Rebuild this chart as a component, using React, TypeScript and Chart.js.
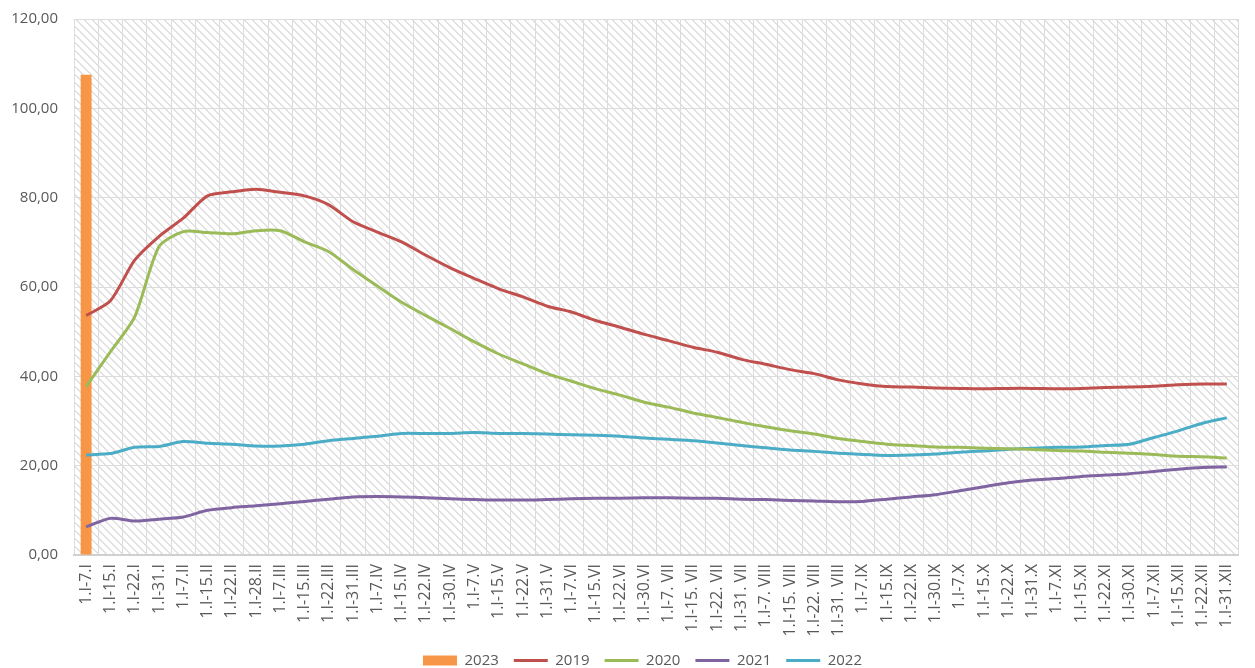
import React, { useEffect, useRef } from "react";
import { Chart, registerables } from "chart.js";

Chart.register(...registerables);

const categories: string[] = [
  "1.I-7.I", "1.I-15.I", "1.I-22.I", "1.I-31.I",
  "1.I-7.II", "1.I-15.II", "1.I-22.II", "1.I-28.II",
  "1.I-7.III", "1.I-15.III", "1.I-22.III", "1.I-31.III",
  "1.I-7.IV", "1.I-15.IV", "1.I-22.IV", "1.I-30.IV",
  "1.I-7.V", "1.I-15.V", "1.I-22.V", "1.I-31.V",
  "1.I-7.VI", "1.I-15.VI", "1.I-22.VI", "1.I-30.VI",
  "1.I-7. VII", "1.I-15. VII", "1.I-22. VII", "1.I-31. VII",
  "1.I-7. VIII", "1.I-15. VIII", "1.I-22. VIII", "1.I-31. VIII",
  "1.I-7.IX", "1.I-15.IX", "1.I-22.IX", "1.I-30.IX",
  "1.I-7.X", "1.I-15.X", "1.I-22.X", "1.I-31.X",
  "1.I-7.XI", "1.I-15.XI", "1.I-22.XI", "1.I-30.XI",
  "1.I-7.XII", "1.I-15.XII", "1.I-22.XII", "1.I-31.XII",
];

const values2023: (number | null)[] = [107.5];

const values2019: number[] = [
  53.6, 56.9, 66.0, 71.3, 75.4, 80.4, 81.3, 81.9, 81.2, 80.4, 78.4, 74.6,
  72.3, 70.1, 67.1, 64.3, 61.9, 59.6, 57.8, 55.7, 54.4, 52.5, 51.0, 49.4,
  48.0, 46.5, 45.4, 43.8, 42.7, 41.5, 40.6, 39.2, 38.3, 37.7, 37.6, 37.4,
  37.3, 37.2, 37.3, 37.3, 37.2, 37.3, 37.5, 37.6, 37.8, 38.1, 38.3, 38.3,
];

const values2020: number[] = [
  37.7, 45.5, 53.3, 69.0, 72.4, 72.2, 71.9, 72.6, 72.6, 70.1, 67.9, 63.9,
  60.2, 56.6, 53.6, 50.7, 47.7, 45.0, 42.8, 40.6, 38.9, 37.2, 35.8, 34.2,
  33.1, 31.8, 30.8, 29.7, 28.7, 27.8, 27.1, 26.1, 25.4, 24.8, 24.5, 24.2,
  24.1, 23.9, 23.8, 23.6, 23.4, 23.3, 23.0, 22.8, 22.5, 22.1, 22.0, 21.7,
];

const values2021: number[] = [
  6.3, 8.2, 7.6, 8.0, 8.5, 10.0, 10.6, 11.0, 11.5, 12.0, 12.5, 13.0,
  13.1, 13.0, 12.8, 12.6, 12.4, 12.3, 12.3, 12.4, 12.6, 12.7, 12.7, 12.8,
  12.8, 12.7, 12.7, 12.5, 12.4, 12.2, 12.1, 11.9, 12.0, 12.5, 13.0, 13.5,
  14.4, 15.3, 16.2, 16.8, 17.1, 17.6, 17.9, 18.2, 18.7, 19.2, 19.6, 19.7,
];

const values2022: number[] = [
  22.4, 22.7, 24.1, 24.3, 25.4, 25.0, 24.8, 24.4, 24.4, 24.8, 25.6, 26.1,
  26.6, 27.2, 27.2, 27.2, 27.4, 27.2, 27.2, 27.1, 26.9, 26.8, 26.6, 26.2,
  25.9, 25.6, 25.1, 24.5, 24.0, 23.5, 23.2, 22.8, 22.5, 22.3, 22.4, 22.6,
  23.0, 23.3, 23.7, 23.9, 24.1, 24.2, 24.5, 24.8, 26.3, 27.8, 29.5, 30.7,
];

const yTicks: number[] = [0, 20, 40, 60, 80, 100, 120];

const COLORS = {
  c2023: "#F79646",
  c2019: "#C0504D",
  c2020: "#9BBB59",
  c2021: "#8064A2",
  c2022: "#4BACC6",
};

const TEXT = "#595959";
const FONT = "'Open Sans', 'Liberation Sans', sans-serif";

function makePattern(): CanvasPattern | string {
  const tile = document.createElement("canvas");
  tile.width = 8;
  tile.height = 8;
  const c = tile.getContext("2d");
  if (!c) return "#ffffff";
  c.fillStyle = "#ffffff";
  c.fillRect(0, 0, 8, 8);
  c.fillStyle = "#e0e0e0";
  for (let i = 0; i < 8; i++) {
    c.fillRect(i, i, 1, 1);
    c.fillRect((i + 1) % 8, i, 1, 1);
  }
  const p = c.createPattern(tile, "repeat");
  return p || "#ffffff";
}

const hatchPlugin = {
  id: "hatchBackground",
  beforeDraw(chart: any) {
    const { ctx, chartArea } = chart;
    if (!chartArea) return;
    ctx.save();
    ctx.fillStyle = makePattern();
    ctx.fillRect(
      chartArea.left,
      chartArea.top,
      chartArea.right - chartArea.left,
      chartArea.bottom - chartArea.top
    );
    ctx.restore();
  },
};

const layoutTweakPlugin = {
  id: "layoutTweak",
  afterLayout(chart: any) {
    const lg = chart.legend;
    if (lg) {
      lg.left += 15;
      lg.right += 15;
      lg.top += 10;
      lg.bottom += 10;
    }
    const xs = chart.scales && chart.scales.x;
    if (xs) {
      xs.bottom = chart.height;
    }
  },
};

export default function App() {
  const ref = useRef<HTMLCanvasElement | null>(null);

  useEffect(() => {
    document.body.style.margin = "0";
    document.body.style.overflow = "hidden";
    if (!ref.current) return;

    const lineDs = (label: string, data: number[], color: string) => ({
      type: "line" as const,
      label,
      data,
      borderColor: color,
      backgroundColor: color,
      borderWidth: 3,
      pointRadius: 0,
      pointHoverRadius: 0,
      tension: 0.25,
      fill: false,
    });

    const chart = new Chart(ref.current, {
      type: "bar",
      data: {
        labels: categories,
        datasets: [
          {
            type: "bar" as const,
            label: "2023",
            data: values2023,
            backgroundColor: COLORS.c2023,
            borderWidth: 0,
            barPercentage: 0.45,
            categoryPercentage: 1,
            order: 5,
          } as any,
          lineDs("2019", values2019, COLORS.c2019),
          lineDs("2020", values2020, COLORS.c2020),
          lineDs("2021", values2021, COLORS.c2021),
          lineDs("2022", values2022, COLORS.c2022),
        ],
      },
      options: {
        responsive: false,
        animation: false,
        layout: { padding: { top: 19, left: 0, right: 0, bottom: 0 } },
        plugins: {
          tooltip: { enabled: false },
          legend: {
            position: "bottom",
            labels: {
              usePointStyle: true,
              pointStyleWidth: 34,
              boxHeight: 10,
              padding: 15,
              color: TEXT,
              font: { family: FONT, size: 15 },
              generateLabels: (ch: any) =>
                ch.data.datasets.map((ds: any, i: number) => ({
                  text: ds.label,
                  fillStyle: i === 0 ? ds.backgroundColor : ds.borderColor,
                  strokeStyle: i === 0 ? ds.backgroundColor : ds.borderColor,
                  lineWidth: i === 0 ? 0 : 3,
                  pointStyle: i === 0 ? "rect" : "line",
                  hidden: false,
                  datasetIndex: i,
                  fontColor: TEXT,
                })),
            },
          },
        },
        scales: {
          x: {
            offset: true,
            grid: {
              offset: true,
              color: "#dcdcdc",
              lineWidth: 1,
              drawTicks: false,
            },
            border: { display: true, color: "#d0d0d0", width: 2 },
            ticks: {
              autoSkip: false,
              maxRotation: 90,
              minRotation: 90,
              padding: 9,
              color: TEXT,
              font: { family: FONT, size: 16 },
            },
            afterFit: (scale: any) => {
              scale.height = 73;
            },
          },
          y: {
            min: 0,
            max: 120,
            afterBuildTicks: (scale: any) => {
              scale.ticks = yTicks.map((v) => ({ value: v }));
            },
            grid: { color: "#dcdcdc", lineWidth: 1, drawTicks: false },
            border: { display: false },
            ticks: {
              padding: 16,
              color: TEXT,
              font: { family: FONT, size: 15, lineHeight: 0.1 },
              callback: (v: any) => Number(v).toFixed(2).replace(".", ","),
            },
            afterFit: (scale: any) => {
              scale.width = 74;
            },
          },
        },
      },
      plugins: [hatchPlugin, layoutTweakPlugin],
    });

    return () => chart.destroy();
  }, []);

  return (
    <div style={{ width: 1255, height: 668, position: "relative" }}>
      <canvas
        ref={ref}
        width={1255}
        height={668}
        style={{ display: "block", width: 1255, height: 668 }}
      />
    </div>
  );
}
